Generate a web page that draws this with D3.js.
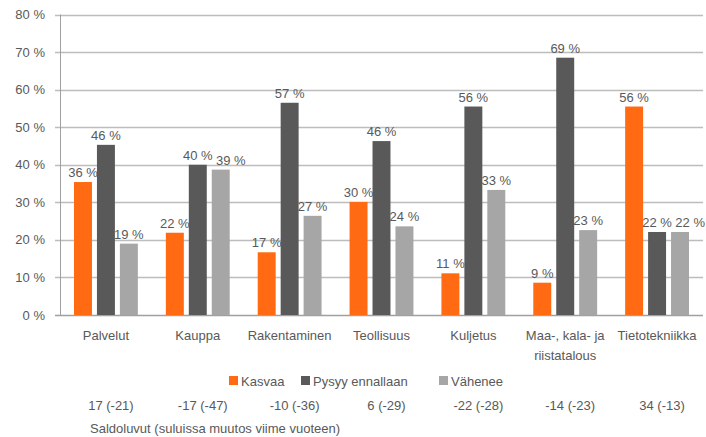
<!DOCTYPE html>
<html>
<head>
<meta charset="utf-8">
<script src="https://cdn.jsdelivr.net/npm/d3@7"></script>
<style>
  body { margin: 0; background: #fff; }
  svg text { font-family: "Liberation Sans", Arial, sans-serif; fill: #595959; }
</style>
</head>
<body>
<svg id="chart" width="706" height="437"></svg>
<script>
// Data *****
var categories = ["Palvelut", "Kauppa", "Rakentaminen", "Teollisuus", "Kuljetus", "Maa-, kala- ja riistatalous", "Tietotekniikka"];
var seriesNames = ["Kasvaa", "Pysyy ennallaan", "Vähenee"];
var seriesColors = ["#ff6a13", "#595959", "#a6a6a6"];

// bar heights (percent)
var kasvaa   = [35.4, 21.9, 16.7, 30.1, 11.1, 8.6, 55.5];
var pysyy    = [45.3, 40.0, 56.5, 46.3, 55.5, 68.5, 22.1];
var vahenee  = [19.0, 38.7, 26.4, 23.6, 33.3, 22.6, 22.1];

// printed data labels
var kasvaaLabels  = [36, 22, 17, 30, 11, 9, 56];
var pysyyLabels   = [46, 40, 57, 46, 56, 69, 22];
var vaheneeLabels = [19, 39, 27, 24, 33, 23, 22];

var saldot = ["17 (-21)", "-17 (-47)", "-10 (-36)", "6 (-29)", "-22 (-28)", "-14 (-23)", "34 (-13)"];
var saldoNote = "Saldoluvut (suluissa muutos viime vuoteen)";

var yTicks = [0, 10, 20, 30, 40, 50, 60, 70, 80];

// Layout *****
var svg = d3.select("#chart");
var plot = { left: 60, right: 703, top: 14.5, bottom: 315 };

var y = d3.scaleLinear().domain([0, 80]).range([plot.bottom, plot.top]);
var x0 = d3.scaleBand().domain(categories).range([plot.left, plot.right]);
var bw = x0.bandwidth();
var x1 = d3.scaleBand().domain(seriesNames).range([14, bw - 14]).paddingInner(5 / 23);

var values = [kasvaa, pysyy, vahenee];
var labels = [kasvaaLabels, pysyyLabels, vaheneeLabels];

// Gridlines + ticks
svg.append("g").selectAll("line")
  .data(yTicks).enter()
  .append("line")
  .attr("x1", plot.left - 5)
  .attr("x2", plot.right)
  .attr("y1", function(d) { return Math.round(y(d)) + 0.5; })
  .attr("y2", function(d) { return Math.round(y(d)) + 0.5; })
  .style("stroke", function(d) { return d == 0 ? "#a0a0a0" : "#bdbdbd"; })
  .style("stroke-width", 1.5);

// y axis line
svg.append("line")
  .attr("x1", plot.left + 0.5).attr("x2", plot.left + 0.5)
  .attr("y1", y(80)).attr("y2", y(0))
  .style("stroke", "#a0a0a0").style("stroke-width", 1);

svg.append("g").selectAll("text")
  .data(yTicks).enter()
  .append("text")
  .attr("x", 45)
  .attr("y", function(d) { return y(d) + 4.5; })
  .attr("text-anchor", "end")
  .attr("font-size", "13px")
  .text(function(d) { return d + " %"; });

// Bars
var groups = svg.append("g").selectAll("g")
  .data(categories).enter()
  .append("g")
  .attr("transform", function(d) { return "translate(" + x0(d) + ",0)"; });

seriesNames.forEach(function(s, si) {
  groups.append("rect")
    .attr("x", x1(s))
    .attr("width", x1.bandwidth())
    .attr("y", function(d, i) { return y(values[si][i]); })
    .attr("height", function(d, i) { return y(0) - y(values[si][i]); })
    .style("fill", seriesColors[si]);

  groups.append("text")
    .attr("class", "dlabel")
    .attr("x", x1(s) + x1.bandwidth() / 2)
    .attr("y", function(d, i) { return y(values[si][i]) - 5; })
    .attr("text-anchor", "middle")
    .attr("font-size", "13px")
    .text(function(d, i) { return labels[si][i] + " %"; });
});

// nudge data labels right when they collide with the previous one in the group
groups.each(function() {
  var prev = null;
  d3.select(this).selectAll("text.dlabel").each(function() {
    var b = this.getBBox();
    if (prev && Math.abs(b.y - prev.y) < b.height && b.x < prev.x + prev.width + 3) {
      var shift = prev.x + prev.width + 3 - b.x;
      d3.select(this).attr("x", +d3.select(this).attr("x") + shift);
      b = this.getBBox();
    }
    prev = b;
  });
});

// Category labels (wrap "Maa-, kala- ja riistatalous")
groups.append("text")
  .attr("x", bw / 2)
  .attr("y", 339.5)
  .attr("text-anchor", "middle")
  .attr("font-size", "13px")
  .each(function(d) {
    var parts = d == "Maa-, kala- ja riistatalous" ? ["Maa-, kala- ja", "riistatalous"] : [d];
    var t = d3.select(this);
    parts.forEach(function(p, k) {
      t.append("tspan").attr("x", bw / 2).attr("dy", k == 0 ? 0 : 20).text(p);
    });
  });

// Legend
var legendX = [229, 301, 439];
var legend = svg.append("g").selectAll("g")
  .data(seriesNames).enter()
  .append("g")
  .attr("transform", function(d, i) { return "translate(" + legendX[i] + ",376)"; });

legend.append("rect")
  .attr("width", 9).attr("height", 9)
  .style("fill", function(d, i) { return seriesColors[i]; });

legend.append("text")
  .attr("x", 12).attr("y", 9.5)
  .attr("font-size", "13px")
  .text(function(d) { return d; });

// Saldo row
svg.append("g").selectAll("text")
  .data(saldot).enter()
  .append("text")
  .attr("x", function(d, i) { return x0(categories[i]) + bw / 2 + 5; })
  .attr("y", 409.5)
  .attr("text-anchor", "middle")
  .attr("font-size", "13px")
  .text(function(d) { return d; });

svg.append("text")
  .attr("x", 90).attr("y", 432.5)
  .attr("font-size", "13px")
  .text(saldoNote);
</script>
</body>
</html>
